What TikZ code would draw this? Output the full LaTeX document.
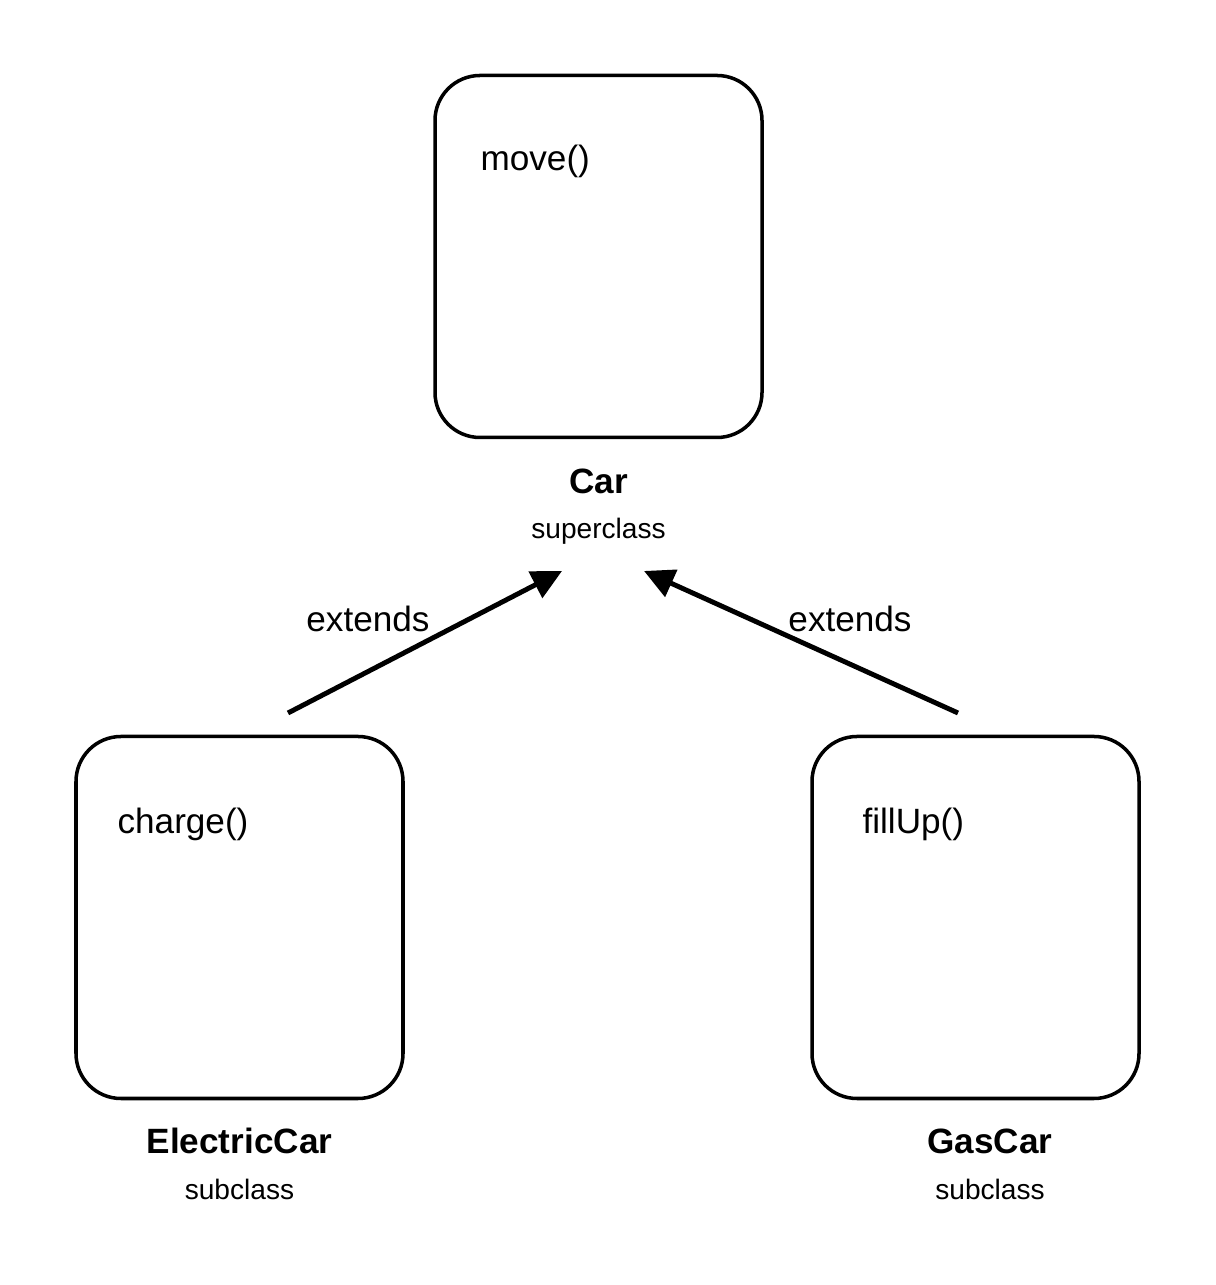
\documentclass[tikz,border=0pt]{standalone}
\usepackage{fontspec}
\setmainfont{Liberation Sans}
\usetikzlibrary{positioning,arrows.meta}

\begin{document}
\begin{tikzpicture}[
    classbox/.style={draw, line width=2pt, rounded corners=0.9cm,
        minimum width=6.54cm, minimum height=7.24cm},
    method/.style={inner sep=0pt, anchor=west, font=\fontsize{20}{24}\selectfont},
    cname/.style={font=\fontsize{20}{24}\selectfont\bfseries},
    role/.style={font=\fontsize{16}{19}\selectfont},
    inherit/.style={line width=2.8pt, -{Triangle[length=0.6cm, width=0.58cm]}}
]

    % fix the page to the reference size
    \useasboundingbox (0,0) rectangle (24.3,25.7);

    % The superclass box at the top
    \node[classbox] (car) at (11.97,20.57) {};
    \node[method] (move) at ([xshift=0.94cm, yshift=-1.75cm]car.north west) {move()};
    \node[cname] (carname) at (11.97,16.07) {Car};
    \node[role] (carrole) at (11.97,15.08) {superclass};

    % The two subclass boxes
    \node[classbox] (elec) at (4.79,7.35) {};
    \node[method] (charge) at ([xshift=0.86cm, yshift=-1.8cm]elec.north west) {charge()};
    \node[cname] (elecname) at (4.79,2.88) {ElectricCar};
    \node[role] (elecrole) at (4.79,1.92) {subclass};

    \node[classbox] (gas) at (19.51,7.35) {};
    \node[method] (fillup) at ([xshift=1.04cm, yshift=-1.8cm]gas.north west) {fillUp()};
    \node[cname] (gasname) at (19.8,2.88) {GasCar};
    \node[role] (gasrole) at (19.8,1.92) {subclass};

    % Ends of the inheritance arrows
    \coordinate (electop) at (5.76,11.44);
    \coordinate (gastop) at (19.16,11.44);
    \coordinate (leftend) at (11.24,14.28);
    \coordinate (rightend) at (12.88,14.28);

    % The extends arrows
    \draw[inherit] (electop) -- (leftend);
    \draw[inherit] (gastop) -- (rightend);

    % Labels of the arrows
    \node[method, anchor=center] (extl) at (7.36,13.32) {extends};
    \node[method, anchor=center] (extr) at (17.0,13.32) {extends};

\end{tikzpicture}
\end{document}
